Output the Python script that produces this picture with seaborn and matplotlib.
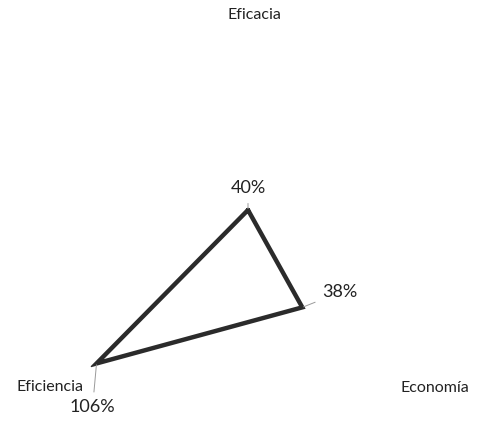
import numpy as np
import pandas as pd
import matplotlib
matplotlib.use("Agg")
import matplotlib.pyplot as plt
import seaborn as sns

categories = ["Eficacia", "Economía", "Eficiencia"]
values = [40, 38, 106]
value_labels = ["40%", "38%", "106%"]

sns.set_theme(style="white")
plt.rcParams["font.family"] = ["Lato", "DejaVu Sans"]

W, H = 494, 442
fig = plt.figure(figsize=(W / 100, H / 100), dpi=100)
cx, cy = 248, 276
rmax = 110
rad_px = 1.65 * rmax
ax = fig.add_axes([(cx - rad_px) / W, 1 - (cy + rad_px) / H, 2 * rad_px / W, 2 * rad_px / H],
                  projection="polar")
ax.set_theta_offset(np.pi / 2)
ax.set_theta_direction(-1)

angles = np.linspace(0, 2 * np.pi, len(categories), endpoint=False)
df = pd.DataFrame({"theta": list(angles) + [2 * np.pi],
                   "r": list(values) + [values[0]]})
sns.lineplot(data=df, x="theta", y="r", sort=False, estimator=None, ax=ax,
             color="#2b2b2b", linewidth=3.2, solid_joinstyle="miter")
ax.set_ylim(0, rmax)
ax.grid(False)
ax.set_xticks([])
ax.set_yticks([])
ax.set_xlabel("")
ax.set_ylabel("")
ax.spines["polar"].set_visible(False)
ax.patch.set_alpha(0)

# value labels
offsets = [(0, 14), (20, 15), (-4, -44)]
has = ["center", "left", "center"]
vas = ["bottom", "center", "center"]
for a, v, lab, off, ha, va in zip(angles, values, value_labels, offsets, has, vas):
    ax.annotate(lab, xy=(a, v), xytext=off, textcoords="offset pixels",
                ha=ha, va=va, fontsize=13, color="#222222",
                arrowprops=dict(arrowstyle="-", color="#9a9a9a", lw=0.7,
                                shrinkA=3, shrinkB=1))

# category labels
label_pos = [(254, 15), (435, 388), (50, 387)]
for lab, (px, py) in zip(categories, label_pos):
    fig.text(px / W, 1 - py / H, lab, ha="center", va="center", fontsize=11.5,
             color="#222222")

fig.savefig("out.png", dpi=100)
